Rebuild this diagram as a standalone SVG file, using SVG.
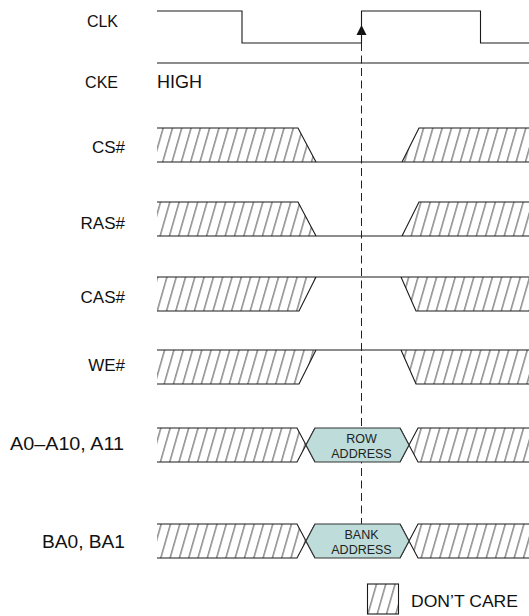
<svg xmlns="http://www.w3.org/2000/svg" width="529" height="616" viewBox="0 0 529 616">
<style>
.sig{fill:none;stroke:#1a1a1a;stroke-width:1.1}
.ht{fill:url(#hatch);stroke:none}
.lbl{font-family:"Liberation Sans",Arial,sans-serif;font-size:17px;fill:#111}
.end{text-anchor:end}
.hex{fill:#bddcda;stroke:#333;stroke-width:1.1}
.hx{font-family:"Liberation Sans",Arial,sans-serif;font-size:12.5px;fill:#222;text-anchor:middle}
</style>
<defs>
<pattern id="hatch" patternUnits="userSpaceOnUse" width="9.3" height="10" patternTransform="skewX(-16)">
<line x1="4.6" y1="-1" x2="4.6" y2="11" stroke="#2a2a2a" stroke-width="0.85"/>
</pattern>
</defs>
<rect width="529" height="616" fill="#fff"/>

<g id="connectors">
<line x1="361.5" y1="43" x2="361.5" y2="524" stroke="#222" stroke-width="1" stroke-dasharray="8 4.5"/>
<polygon points="361.5,25 356.5,35 366.5,35" fill="#111"/>
</g>

<g id="clk">
<text class="lbl end" x="118" y="27" style="font-size:16px">CLK</text>
<path class="sig" d="M157,11 H242 V43 H361.5 V11 H480.5 V43 H529"/>
</g>

<g id="cke">
<text class="lbl end" x="118" y="88" style="font-size:16px">CKE</text>
<text class="lbl" x="157" y="88" style="font-size:18px">HIGH</text>
<path class="sig" d="M157,63 H529"/>
</g>

<g id="cs">
<text class="lbl end" x="125" y="152.5">CS#</text>
<polygon class="ht" points="157,128 298,128 316,162 157,162"/>
<polygon class="ht" points="402,162 419,128 529,128 529,162"/>
<path class="sig" d="M157,128 H298 L316,162 M157,162 H529 M402,162 L419,128 H529"/>
</g>

<g id="ras">
<text class="lbl end" x="125" y="229">RAS#</text>
<polygon class="ht" points="157,202 298,202 316,236 157,236"/>
<polygon class="ht" points="402,236 419,202 529,202 529,236"/>
<path class="sig" d="M157,202 H298 L316,236 M157,236 H529 M402,236 L419,202 H529"/>
</g>

<g id="cas">
<text class="lbl end" x="125" y="302.5">CAS#</text>
<polygon class="ht" points="157,277 316,277 299,311 157,311"/>
<polygon class="ht" points="401,277 416,311 529,311 529,277"/>
<path class="sig" d="M157,277 H529 M157,311 H299 L316,277 M401,277 L416,311 H529"/>
</g>

<g id="we">
<text class="lbl end" x="125" y="370.5">WE#</text>
<polygon class="ht" points="157,350 316,350 299,384 157,384"/>
<polygon class="ht" points="401,350 416,384 529,384 529,350"/>
<path class="sig" d="M157,350 H529 M157,384 H299 L316,350 M401,350 L416,384 H529"/>
</g>

<g id="addr">
<text class="lbl end" x="124" y="450" textLength="114" lengthAdjust="spacingAndGlyphs" style="font-size:18px">A0–A10, A11</text>
<polygon class="ht" points="157,428 297,428 306,445 297,462 157,462"/>
<polygon class="ht" points="409,445 418,428 529,428 529,462 418,462"/>
<path class="sig" d="M157,428 H297 L315,462 M157,462 H297 L315,428 M400,428 L418,462 H529 M400,462 L418,428 H529"/>
<polygon class="hex" points="306,445 315,428 400,428 409,445 400,462 315,462"/>
<text class="hx" x="361.5" y="442.5">ROW</text>
<text class="hx" x="361.5" y="458">ADDRESS</text>
</g>

<g id="bank">
<text class="lbl end" x="125" y="548" textLength="83" lengthAdjust="spacingAndGlyphs" style="font-size:18px">BA0, BA1</text>
<polygon class="ht" points="157,524 297,524 306,541 297,558 157,558"/>
<polygon class="ht" points="409,541 418,524 529,524 529,558 418,558"/>
<path class="sig" d="M157,524 H297 L315,558 M157,558 H297 L315,524 M400,524 L418,558 H529 M400,558 L418,524 H529"/>
<polygon class="hex" points="306,541 315,524 400,524 409,541 400,558 315,558"/>
<text class="hx" x="361.5" y="539">BANK</text>
<text class="hx" x="361.5" y="554">ADDRESS</text>
</g>

<g id="legend">
<rect x="367.5" y="584" width="31" height="30" fill="url(#hatch)" stroke="#1a1a1a" stroke-width="1.1"/>
<text class="lbl" x="411" y="607" textLength="107" lengthAdjust="spacingAndGlyphs">DON’T CARE</text>
</g>
</svg>
